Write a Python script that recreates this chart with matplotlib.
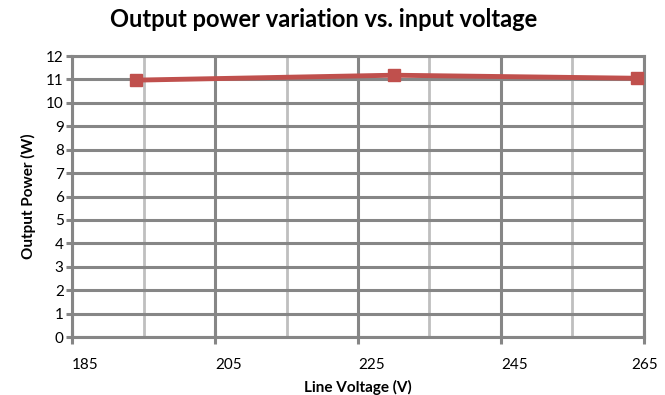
import matplotlib
matplotlib.use('Agg')
import matplotlib.pyplot as plt
from matplotlib.ticker import FixedLocator
import matplotlib.transforms as mtransforms

# data
VOLTS = [194, 230, 264]
POWER = [10.97, 11.18, 11.05]
XTICKS = [185, 205, 225, 245, 265]
XMINOR = [195, 215, 235, 255]
YTICKS = list(range(0, 13))

RED = '#C0504D'
DARK = '#868686'
LIGHT = '#BFBFBF'
FONT = 'Lato'

plt.rcParams['font.family'] = [FONT, 'DejaVu Sans']

fig = plt.figure(figsize=(6.65, 3.95), dpi=100)
ax = fig.add_axes([0.1083, 0.1468, 0.8601, 0.7114])

ax.set_xlim(185, 265)
ax.set_ylim(0, 12)
ax.set_xticks(XTICKS)
ax.set_yticks(YTICKS)
ax.xaxis.set_minor_locator(FixedLocator(XMINOR))

ax.grid(True, which='major', axis='both', color=DARK, lw=2.2, zorder=1)
ax.grid(True, which='minor', axis='x', color=LIGHT, lw=2.0, zorder=0)
for s in ax.spines.values():
    s.set_color(DARK)
    s.set_linewidth(2.2)

ax.tick_params(axis='x', which='major', direction='inout', length=10, width=2.2,
               color=DARK, pad=10, labelsize=11)
ax.tick_params(axis='x', which='minor', length=0)
ax.tick_params(axis='y', direction='out', length=4, width=2.2, color=DARK,
               pad=2, labelsize=11)
xlabs = ax.get_xticklabels()
for lab in xlabs:
    lab.set_horizontalalignment('left')
# last label pulled in so it stays inside the figure
xlabs[-1].set_horizontalalignment('right')
xlabs[-1].set_transform(xlabs[-1].get_transform() +
                        mtransforms.ScaledTranslation(14 / 100, 0, fig.dpi_scale_trans))

ax.plot(VOLTS, POWER, color=RED, lw=3.5, marker='s', markersize=9,
        solid_capstyle='butt', clip_on=False, zorder=5)

ax.set_xlabel('Line Voltage (V)', fontsize=11, fontweight='bold', labelpad=6)
ax.set_ylabel('Output Power (W)', fontsize=11, fontweight='bold', labelpad=7)
fig.text(0.487, 0.95, 'Output power variation vs. input voltage', fontsize=17,
         fontweight='bold', ha='center', va='center')

fig.savefig('out.png', dpi=100)
